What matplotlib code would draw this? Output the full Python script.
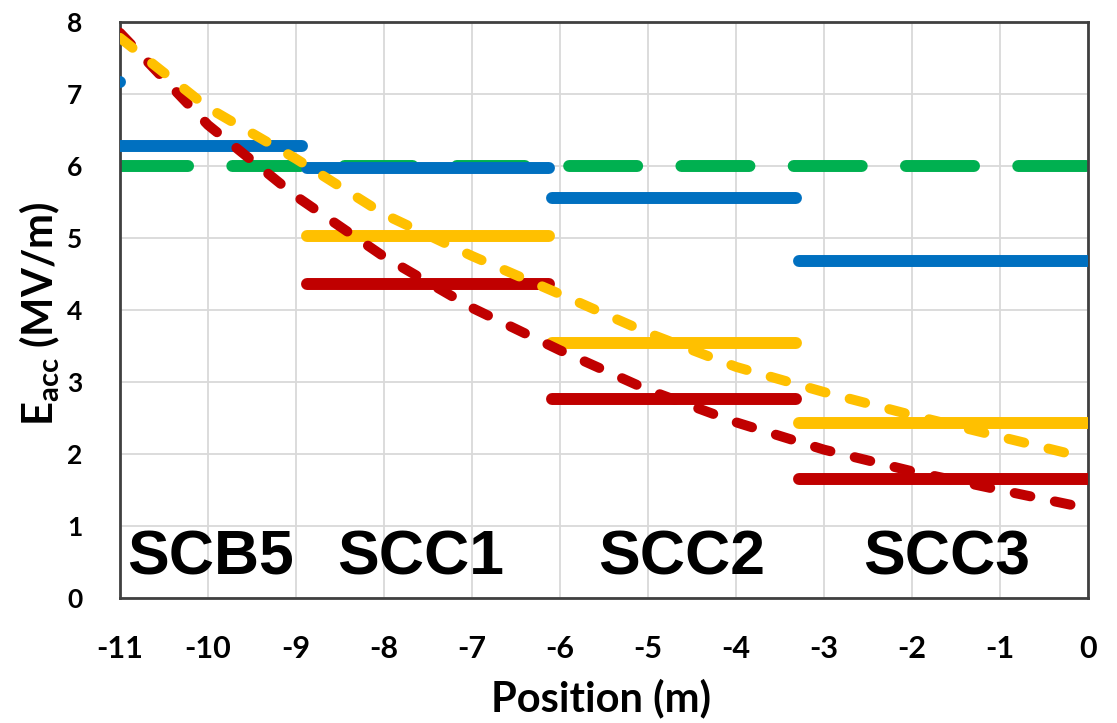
import matplotlib
matplotlib.use("Agg")
import matplotlib.pyplot as plt

# ── data ──────────────────────────────────────────────────────────────────────
# cavity segments (start, end) in metres
seg_scb5 = (-11.0, -8.93)
seg_scc1 = (-8.88, -6.12)
seg_scc2 = (-6.09, -3.32)
seg_scc3 = (-3.28, 0.0)
segments = [seg_scb5, seg_scc1, seg_scc2, seg_scc3]

blue_levels = [6.28, 5.97, 5.55, 4.68]
blue_prev = ((-12.0, -11.0), 7.16)          # cavity upstream, clipped at axis
yellow_levels = [None, 5.03, 3.54, 2.43]
red_levels = [None, 4.36, 2.77, 1.65]

green_x = [-11.0, 0.0]
green_y = [6.0, 6.0]

curve_x = [-11, -10, -9, -8, -7, -6, -5, -4, -3, -2, -1, -0.1]
yellow_curve = [7.78, 6.81, 6.10, 5.33, 4.75, 4.22, 3.68, 3.21, 2.86, 2.54, 2.24, 1.97]
red_curve = [7.85, 6.57, 5.58, 4.74, 4.03, 3.44, 2.89, 2.44, 2.06, 1.76, 1.50, 1.27]

labels = ["SCB5", "SCC1", "SCC2", "SCC3"]
label_x = [-9.97, -7.58, -4.62, -1.61]

BLUE = "#0070C0"
GREEN = "#00B050"
YELLOW = "#FFC000"
RED = "#C00000"

plt.rcParams["font.family"] = ["Lato", "DejaVu Sans"]
plt.rcParams["axes.unicode_minus"] = False
plt.rcParams["mathtext.fontset"] = "custom"
plt.rcParams["mathtext.rm"] = "Lato:bold"

fig = plt.figure(figsize=(11.17, 7.23), dpi=100)
ax = fig.add_axes([0.1074, 0.1729, 0.8667, 0.7967])

LW = 8.6      # solid segments (~12 px)
LWD = 7.2     # dashed curves (~10 px)

# green reference line
ax.plot(green_x, green_y, color=GREEN, lw=LW, linestyle=(0, (5.7, 3.7)),
        dash_capstyle="round", zorder=2)

# blue cavity levels
ax.plot(blue_prev[0], [blue_prev[1]] * 2, color=BLUE, lw=LW,
        solid_capstyle="round", zorder=3)
for (x0, x1), y in zip(segments, blue_levels):
    ax.plot([x0, x1], [y, y], color=BLUE, lw=LW, solid_capstyle="round", zorder=3)

for (x0, x1), y in zip(segments, yellow_levels):
    if y is not None:
        ax.plot([x0, x1], [y, y], color=YELLOW, lw=LW, solid_capstyle="round", zorder=4)
for (x0, x1), y in zip(segments, red_levels):
    if y is not None:
        ax.plot([x0, x1], [y, y], color=RED, lw=LW, solid_capstyle="round", zorder=4)

# dashed curves
ax.plot(curve_x, red_curve, color=RED, lw=LWD, linestyle=(0, (1.6, 2.5)),
        dash_capstyle="round", zorder=5)
ax.plot(curve_x, yellow_curve, color=YELLOW, lw=LWD, linestyle=(0, (1.6, 2.5)),
        dash_capstyle="round", zorder=6)

# cavity names
for name, x in zip(labels, label_x):
    ax.text(x, 0.33, name, ha="center", va="baseline", fontsize=45,
            fontweight="bold", family="Liberation Sans", zorder=7)

ax.set_xlim(-11, 0)
ax.set_ylim(0, 8)
ax.set_xticks(range(-11, 1))
ax.set_yticks(range(0, 9))
ax.grid(True, color="#d9d9d9", lw=1.3)
ax.set_axisbelow(True)
ax.tick_params(length=0)
ax.tick_params(axis="x", pad=27, labelsize=22)
ax.tick_params(axis="y", pad=27, labelsize=19)
for lab in ax.get_xticklabels() + ax.get_yticklabels():
    lab.set_fontweight("bold")
for sp in ax.spines.values():
    sp.set_color("#404040")
    sp.set_linewidth(2)

fig.text(0.538, 0.0346, "Position (m)", ha="center", va="center",
         fontsize=30, fontweight="bold")
fig.text(0.0358, 0.5657, r"E$_{\mathregular{acc}}$ (MV/m)", ha="center", va="center",
         rotation=90, fontsize=30, fontweight="bold")

fig.savefig("out.png", dpi=100)
